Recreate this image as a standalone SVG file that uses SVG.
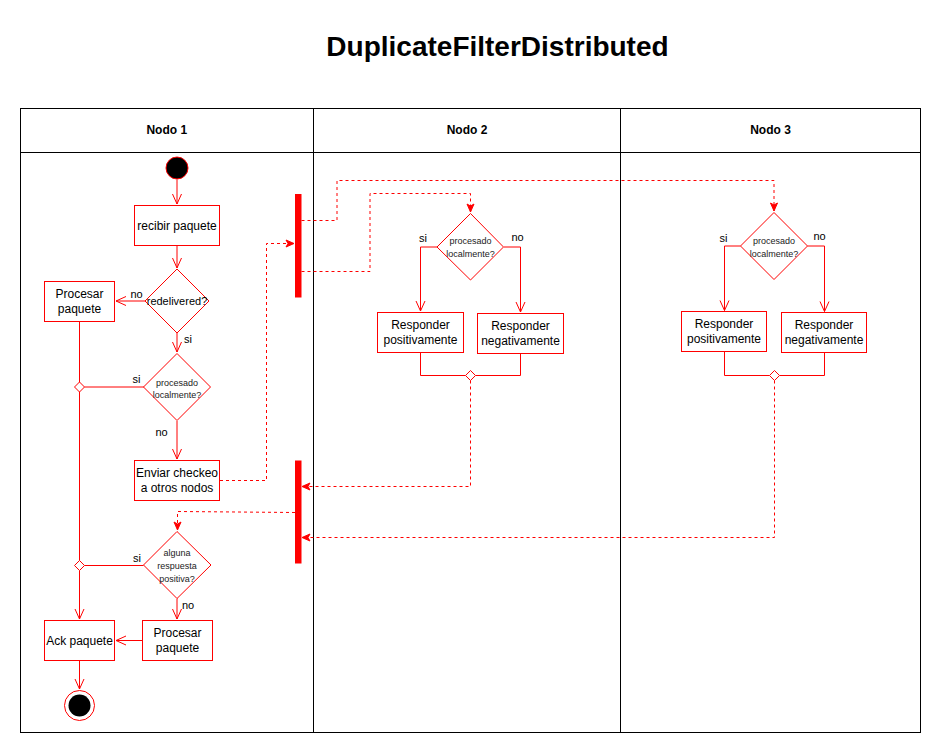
<svg xmlns="http://www.w3.org/2000/svg" width="942" height="754" viewBox="0 0 942 754">
<style>
text{font-family:"Liberation Sans",Arial,sans-serif;fill:#000;}
.title{font-size:28px;font-weight:bold;text-anchor:middle;}
.hdr{font-size:12px;font-weight:bold;text-anchor:middle;}
.lane{fill:none;stroke:#000;stroke-width:1;}
.box{fill:#fff;stroke:#ff0000;stroke-width:1;}
.t12{font-size:12px;text-anchor:middle;}
.t11{font-size:11px;text-anchor:middle;}
.t9{font-size:9px;text-anchor:middle;fill:#222;}
.lbl{font-size:11px;text-anchor:middle;}
.flow{fill:none;stroke:#ff0000;stroke-width:1;}
.arr{marker-end:url(#open);}
.dash{fill:none;stroke:#ff0000;stroke-width:1;stroke-dasharray:3 3;marker-end:url(#fill);}
.bar{fill:#ff0000;stroke:#ff0000;stroke-width:1;}
</style>
<defs>
<marker id="open" markerUnits="userSpaceOnUse" markerWidth="12" markerHeight="12" refX="10" refY="5" orient="auto" overflow="visible">
<path d="M0,0.5 L10,5 L0,9.5" fill="none" stroke="#ff0000" stroke-width="1"/>
</marker>
<marker id="fill" markerUnits="userSpaceOnUse" markerWidth="10" markerHeight="10" refX="8" refY="3.5" orient="auto" overflow="visible">
<path d="M0,0 L8,3.5 L0,7 L2,3.5 Z" fill="#ff0000" stroke="#ff0000" stroke-width="1"/>
</marker>
</defs>
<rect width="942" height="754" fill="#fff"/>
<text class="title" x="497.5" y="56">DuplicateFilterDistributed</text>
<g id="lanes">
<rect class="lane" x="20.5" y="108.5" width="900" height="624"/>
<line class="lane" x1="20.5" y1="152.5" x2="920.5" y2="152.5"/>
<line class="lane" x1="313.5" y1="108.5" x2="313.5" y2="732.5"/>
<line class="lane" x1="620.5" y1="108.5" x2="620.5" y2="732.5"/>
<text class="hdr" x="166.75" y="134">Nodo 1</text>
<text class="hdr" x="467" y="134">Nodo 2</text>
<text class="hdr" x="770.5" y="134">Nodo 3</text>
</g>
<g id="connectors">
<path class="flow arr" d="M177,179.5 V204"/>
<path class="flow arr" d="M177,245.5 V268"/>
<path class="flow arr" d="M145,301 H116"/>
<text class="lbl" x="136.5" y="298">no</text>
<path class="flow arr" d="M177,333 V352"/>
<text class="lbl" x="188" y="343">si</text>
<path class="flow" d="M144,387 H84.5"/>
<text class="lbl" x="136.5" y="383">si</text>
<path class="flow arr" d="M177,421 V459"/>
<text class="lbl" x="161.5" y="436">no</text>
<path class="flow" d="M79.5,321.5 V382"/>
<path class="flow" d="M79.5,392 V560.5"/>
<path class="flow arr" d="M79.5,570.5 V619"/>
<path class="flow" d="M143.5,565.5 H84.5"/>
<text class="lbl" x="137" y="562">si</text>
<path class="flow arr" d="M177,598.5 V619"/>
<text class="lbl" x="188" y="609">no</text>
<path class="flow arr" d="M142.5,640.5 H116"/>
<path class="flow arr" d="M79.5,660.5 V689"/>
<path class="dash" d="M220,480.5 H266.5 V243.5 H294"/>
<path class="dash" d="M301.5,220.5 H337 V180.5 H774 V211"/>
<path class="dash" d="M301.5,271.5 H370 V193.5 H470.5 V212"/>
<path class="flow arr" d="M437,247 H420.5 V311"/>
<text class="lbl" x="423" y="242">si</text>
<path class="flow arr" d="M504,247 H520.5 V312"/>
<text class="lbl" x="517.5" y="241">no</text>
<path class="flow" d="M420.5,352.5 V375.5 H465.5"/>
<path class="flow" d="M520.5,353.5 V375.5 H475.5"/>
<path class="dash" d="M470.5,380.5 V486.5 H302"/>
<path class="flow arr" d="M740.5,246 H724.5 V310.5"/>
<text class="lbl" x="723.5" y="242">si</text>
<path class="flow arr" d="M807.5,246 H824.5 V311.5"/>
<text class="lbl" x="819.5" y="240">no</text>
<path class="flow" d="M724.5,351.5 V375.5 H769.5"/>
<path class="flow" d="M824.5,352.5 V375.5 H779.5"/>
<path class="dash" d="M774.5,380.5 V537.5 H302"/>
<path class="dash" d="M295,512.5 L177.5,511.5 V530"/>
</g>
<g id="start"><circle cx="177" cy="168" r="11" fill="#000" stroke="#ff0000" stroke-width="1"/></g>
<g id="recibir"><rect class="box" x="134.5" y="205.5" width="85" height="40"/><text class="t12" x="177" y="229.5">recibir paquete</text></g>
<g id="redelivered"><path class="box" d="M177,269 L209,301 L177,333 L145,301 Z"/><text class="t11" x="177" y="305">redelivered?</text></g>
<g id="procesar1"><rect class="box" x="44.5" y="281.5" width="70" height="40"/><text class="t12" x="79.5" y="298">Procesar</text><text class="t12" x="79.5" y="312.5">paquete</text></g>
<g id="procesado1"><path class="box" d="M177,353.5 L210.5,387 L177,420.5 L143.5,387 Z"/><text class="t9" x="177" y="385.5">procesado</text><text class="t9" x="177" y="398">localmente?</text></g>
<g id="merge1"><path class="box" d="M79.5,382 L84.5,387 L79.5,392 L74.5,387 Z"/></g>
<g id="enviar"><rect class="box" x="134.5" y="460.5" width="85" height="40"/><text class="t12" x="177" y="477">Enviar checkeo</text><text class="t12" x="177" y="492">a otros nodos</text></g>
<g id="fork"><rect class="bar" x="295.5" y="194.5" width="5.5" height="102.5"/></g>
<g id="join"><rect class="bar" x="295.5" y="461" width="5.5" height="102"/></g>
<g id="alguna"><path class="box" d="M177,531.5 L211,565 L177,598.5 L143.5,565 Z"/><text class="t9" x="177" y="556">alguna</text><text class="t9" x="177" y="569">respuesta</text><text class="t9" x="177" y="582">positiva?</text></g>
<g id="merge2"><path class="box" d="M79.5,560.5 L84.5,565.5 L79.5,570.5 L74.5,565.5 Z"/></g>
<g id="procesar2"><rect class="box" x="142.5" y="620.5" width="70" height="40"/><text class="t12" x="177.5" y="637">Procesar</text><text class="t12" x="177.5" y="652">paquete</text></g>
<g id="ack"><rect class="box" x="44.5" y="620.5" width="70" height="40"/><text class="t12" x="79.5" y="644.5">Ack paquete</text></g>
<g id="end"><circle cx="79.5" cy="705.5" r="15" fill="#fff" stroke="#ff0000" stroke-width="1"/><circle cx="79.5" cy="705.5" r="11" fill="#000"/></g>
<g id="procesado2"><path class="box" d="M470.5,213.5 L503.5,247 L470.5,280 L437,247 Z"/><text class="t9" x="470.5" y="244">procesado</text><text class="t9" x="470.5" y="256.5">localmente?</text></g>
<g id="positivo2"><rect class="box" x="377.5" y="312.5" width="86" height="40"/><text class="t12" x="420.5" y="329">Responder</text><text class="t12" x="420.5" y="344">positivamente</text></g>
<g id="negativo2"><rect class="box" x="477.5" y="313.5" width="86" height="40"/><text class="t12" x="520.5" y="330">Responder</text><text class="t12" x="520.5" y="345">negativamente</text></g>
<g id="merge3"><path class="box" d="M470.5,370.5 L475.5,375.5 L470.5,380.5 L465.5,375.5 Z"/></g>
<g id="procesado3"><path class="box" d="M774,212.5 L807.5,246 L774,279.5 L740.5,246 Z"/><text class="t9" x="774" y="244">procesado</text><text class="t9" x="774" y="256.5">localmente?</text></g>
<g id="positivo3"><rect class="box" x="681.5" y="311.5" width="85" height="40"/><text class="t12" x="724" y="328">Responder</text><text class="t12" x="724" y="343">positivamente</text></g>
<g id="negativo3"><rect class="box" x="781.5" y="312.5" width="85" height="40"/><text class="t12" x="824" y="329">Responder</text><text class="t12" x="824" y="344">negativamente</text></g>
<g id="merge4"><path class="box" d="M774.5,370.5 L779.5,375.5 L774.5,380.5 L769.5,375.5 Z"/></g>
</svg>
